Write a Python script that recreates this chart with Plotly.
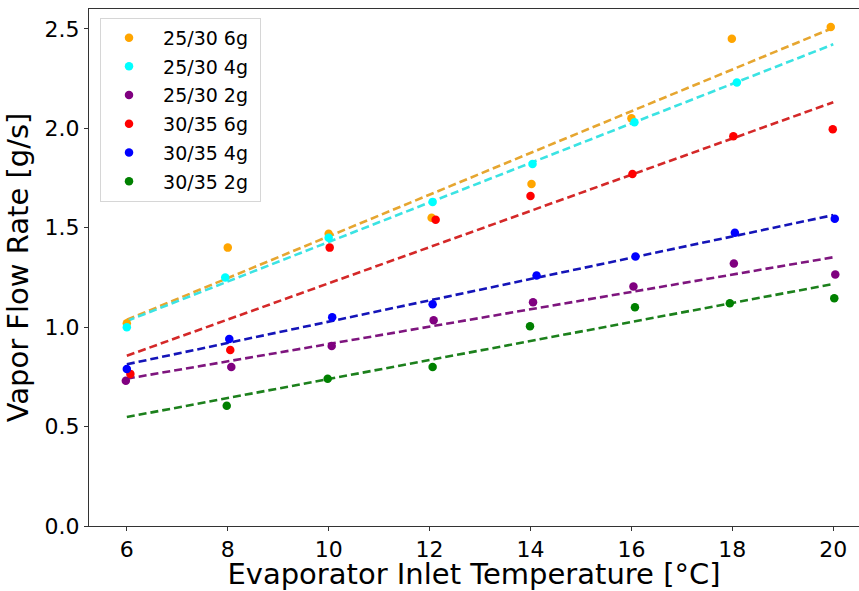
import numpy as np
import plotly.graph_objects as go

# ---- data ----
names = ["25/30 6g", "25/30 4g", "25/30 2g", "30/35 6g", "30/35 4g", "30/35 2g"]

x_25_30_6g = [6.0, 8.0, 10.0, 12.04, 14.02, 16.0, 17.99, 19.95]
y_25_30_6g = [1.02, 1.40, 1.47, 1.55, 1.72, 2.05, 2.45, 2.51]

x_25_30_4g = [6.0, 7.95, 10.0, 12.06, 14.04, 16.06, 18.09]
y_25_30_4g = [1.00, 1.25, 1.45, 1.63, 1.82, 2.03, 2.23]

x_25_30_2g = [5.98, 8.07, 10.06, 12.08, 14.05, 16.04, 18.03, 20.04]
y_25_30_2g = [0.73, 0.80, 0.905, 1.035, 1.125, 1.205, 1.32, 1.265]

x_30_35_6g = [6.07, 8.05, 10.02, 12.12, 14.0, 16.02, 18.02, 19.99]
y_30_35_6g = [0.765, 0.885, 1.40, 1.54, 1.66, 1.77, 1.96, 1.995]

x_30_35_4g = [6.0, 8.03, 10.07, 12.06, 14.12, 16.08, 18.05, 20.03]
y_30_35_4g = [0.79, 0.94, 1.05, 1.115, 1.26, 1.355, 1.475, 1.545]

x_30_35_2g = [7.98, 9.98, 12.06, 13.99, 16.07, 17.95, 20.02]
y_30_35_2g = [0.605, 0.74, 0.80, 1.005, 1.10, 1.12, 1.145]

fit_x = [6, 20]
x_ticks = [6, 8, 10, 12, 14, 16, 18, 20]
y_ticks = [0.0, 0.5, 1.0, 1.5, 2.0, 2.5]

series_x = [x_25_30_6g, x_25_30_4g, x_25_30_2g, x_30_35_6g, x_30_35_4g, x_30_35_2g]
series_y = [y_25_30_6g, y_25_30_4g, y_25_30_2g, y_30_35_6g, y_30_35_4g, y_30_35_2g]

marker_colors = ["#FFA500", "#00FFFF", "#800080", "#FF0000", "#0000FF", "#008000"]
line_colors = ["#E6A630", "#3BE3E3", "#7E157E", "#D42828", "#1414B8", "#1C801C"]

FONT = "DejaVu Sans"

fig = go.Figure()

# trend lines (linear fits) drawn first
for xs, ys, lc in zip(series_x, series_y, line_colors):
    k, b = np.polyfit(xs, ys, 1)
    fx = np.array(fit_x, dtype=float)
    fig.add_trace(go.Scatter(
        x=fx, y=k * fx + b, mode="lines",
        line=dict(color=lc, width=2.6, dash="8px,4px"),
        showlegend=False, hoverinfo="skip",
    ))

for i, (xs, ys, name, mc) in enumerate(zip(series_x, series_y, names, marker_colors)):
    fig.add_trace(go.Scatter(
        x=xs, y=ys, mode="markers", name="\u00a0" + name + "\u00a0",
        marker=dict(color=mc, size=8.5, line=dict(width=0)),
        legendgroup=f"g{i}",
    ))

fig.update_layout(
    width=859, height=591,
    margin=dict(l=89, r=0, t=9, b=65),
    paper_bgcolor="white", plot_bgcolor="white",
    font=dict(family=FONT, color="black"),
    showlegend=True,
    legend=dict(
        x=0.0143, y=0.983, xanchor="left", yanchor="top",
        bgcolor="rgba(255,255,255,0.85)",
        bordercolor="#d6d6d6", borderwidth=1,
        font=dict(family=FONT, size=19, color="black"),
        traceorder="grouped", tracegroupgap=1,
        itemwidth=46,
    ),
    xaxis=dict(
        range=[5.25, 20.51],
        tickmode="array", tickvals=x_ticks,
        ticks="outside", ticklen=4, tickwidth=1, tickcolor="#333",
        showline=True, linecolor="#333", linewidth=1, mirror=True,
        showgrid=False, zeroline=False,
        tickfont=dict(family=FONT, size=22, color="black"),
        title=dict(text="Evaporator Inlet Temperature [°C]",
                   font=dict(family=FONT, size=29, color="black"), standoff=4),
    ),
    yaxis=dict(
        range=[0, 2.60],
        tickmode="array", tickvals=y_ticks, tickformat=".1f",
        ticks="outside", ticklen=4, tickwidth=1, tickcolor="#333",
        showline=True, linecolor="#333", linewidth=1, mirror=False,
        showgrid=False, zeroline=False,
        tickfont=dict(family=FONT, size=22, color="black"),
        title=dict(text="Vapor Flow Rate [g/s]",
                   font=dict(family=FONT, size=29, color="black"), standoff=7),
    ),
)

fig.write_html("out.html", config={"displayModeBar": False},
               post_script="document.body.style.margin='0';")
